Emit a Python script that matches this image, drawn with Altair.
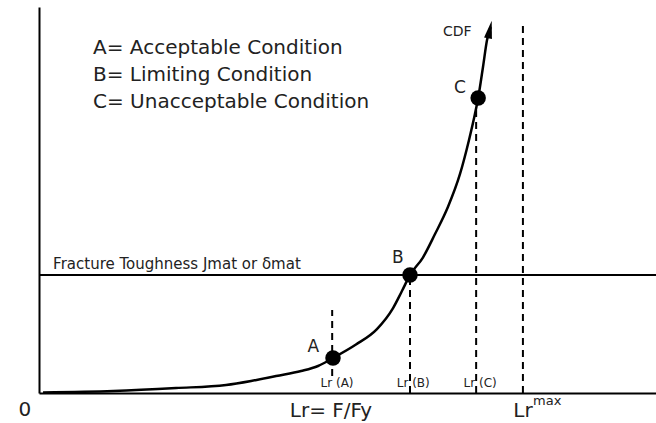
import altair as alt
import pandas as pd

FONT = "DejaVu Sans"

# CDF curve (Lr = F/Fy vs. crack driving force J / Jmat)
curve_lr = [0.010, 0.184, 0.340, 0.464, 0.526, 0.588, 0.650, 0.692, 0.729, 0.786,
            0.838, 0.878, 0.900, 0.920, 0.952, 0.982, 1.014, 1.044, 1.066, 1.081,
            1.089, 1.101, 1.111, 1.120]
curve_j = [0.005, 0.017, 0.042, 0.068, 0.102, 0.144, 0.186, 0.229, 0.297, 0.411,
           0.542, 0.720, 0.864, 1.000, 1.148, 1.347, 1.576, 1.856, 2.140, 2.364,
           2.500, 2.763, 2.992, 3.100]

# condition points
pt_name = ["A", "B", "C"]
pt_lr = [0.729, 0.920, 1.089]
pt_j = [0.297, 1.000, 2.500]
pt_lab_lr = [0.680, 0.890, 1.044]
pt_lab_j = [0.390, 1.144, 2.585]

# dashed verticals
dash_lr = [0.727, 0.920, 1.084, 1.200]
dash_from = [0.144, 0.0, 0.0, 0.0]
dash_to = [0.703, 1.0, 2.500, 3.144]

# small Lr labels
lr_lab = ["Lr (A)", "Lr (B)", "Lr (C)"]
lr_lab_x = [0.739, 0.928, 1.094]
lr_lab_y = [0.055, 0.055, 0.055]

toughness = 1.0

legend_lines = ["A= Acceptable Condition", "B= Limiting Condition", "C= Unacceptable Condition"]
legend_y = [2.873, 2.644, 2.415]

XD = [0, 1.530]
YD = [0, 3.271]
xs = alt.Scale(domain=XD, nice=False, zero=False)
ys = alt.Scale(domain=YD, nice=False, zero=False)

curve_df = pd.DataFrame({"lr": curve_lr, "j": curve_j, "o": list(range(len(curve_lr)))})
pts_df = pd.DataFrame({"name": pt_name, "lr": pt_lr, "j": pt_j, "llr": pt_lab_lr, "lj": pt_lab_j})
dash_df = pd.DataFrame({"lr": dash_lr, "a": dash_from, "b": dash_to})

X = alt.X("lr:Q", scale=xs, axis=alt.Axis(title="", labels=False, ticks=False, grid=False,
                                           domainColor="black", domainWidth=2))
Y = alt.Y("j:Q", scale=ys, axis=alt.Axis(title="", labels=False, ticks=False, grid=False,
                                          domainColor="black", domainWidth=2))

curve = alt.Chart(curve_df).mark_line(color="black", strokeWidth=2.5, interpolate="monotone").encode(
    x=X, y=Y, order="o:Q")

arrow = alt.Chart(pd.DataFrame({"lr": [1.118], "j": [3.08]})).mark_point(
    shape="M0,-1L0.45,1L-0.45,1Z", filled=True, color="black", size=320, angle=12, opacity=1
).encode(x=alt.X("lr:Q", scale=xs), y=alt.Y("j:Q", scale=ys))

hline = alt.Chart(pd.DataFrame({"j": [toughness]})).mark_rule(color="black", strokeWidth=2).encode(
    y=alt.Y("j:Q", scale=ys))

dashes = alt.Chart(dash_df).mark_rule(color="black", strokeWidth=2, strokeDash=[7, 5]).encode(
    x=alt.X("lr:Q", scale=xs), y=alt.Y("a:Q", scale=ys), y2="b:Q")

dots = alt.Chart(pts_df).mark_circle(color="black", size=240, opacity=1).encode(
    x=alt.X("lr:Q", scale=xs), y=alt.Y("j:Q", scale=ys))

dot_labels = alt.Chart(pts_df).mark_text(font=FONT, fontSize=17, color="#222", align="center",
                                         baseline="middle").encode(
    x=alt.X("llr:Q", scale=xs), y=alt.Y("lj:Q", scale=ys), text="name:N")

legend = alt.Chart(pd.DataFrame({"t": legend_lines, "y": legend_y, "x": [0.134] * 3})).mark_text(
    font=FONT, fontSize=20, color="#222", align="left", baseline="alphabetic").encode(
    x=alt.X("x:Q", scale=xs), y=alt.Y("y:Q", scale=ys), text="t:N")

cdf = alt.Chart(pd.DataFrame({"t": ["CDF"], "x": [1.037], "y": [3.059]})).mark_text(
    font=FONT, fontSize=14, color="#222", align="center", baseline="middle").encode(
    x=alt.X("x:Q", scale=xs), y=alt.Y("y:Q", scale=ys), text="t:N")

tough_lab = alt.Chart(pd.DataFrame({"t": ["Fracture Toughness Jmat or δmat"], "x": [0.035], "y": [1.051]})).mark_text(
    font=FONT, fontSize=15, color="#222", align="left", baseline="alphabetic").encode(
    x=alt.X("x:Q", scale=xs), y=alt.Y("y:Q", scale=ys), text="t:N")

lr_labels = alt.Chart(pd.DataFrame({"t": lr_lab, "x": lr_lab_x, "y": lr_lab_y})).mark_text(
    font=FONT, fontSize=12, color="#222", align="center", baseline="alphabetic").encode(
    x=alt.X("x:Q", scale=xs), y=alt.Y("y:Q", scale=ys), text="t:N")

center_labels = alt.Chart(pd.DataFrame({"t": ["0", "Lr= F/Fy"], "x": [-0.035, 0.724],
                                        "y": [-0.195, -0.203]})).mark_text(
    font=FONT, fontSize=20, color="#222", align="center", baseline="alphabetic").encode(
    x=alt.X("x:Q", scale=xs), y=alt.Y("y:Q", scale=ys), text="t:N")

lrmax = alt.Chart(pd.DataFrame({"t": ["Lr"], "x": [1.176], "y": [-0.203]})).mark_text(
    font=FONT, fontSize=20, color="#222", align="left", baseline="alphabetic").encode(
    x=alt.X("x:Q", scale=xs), y=alt.Y("y:Q", scale=ys), text="t:N")

sup = alt.Chart(pd.DataFrame({"t": ["max"], "x": [1.225], "y": [-0.102]})).mark_text(
    font=FONT, fontSize=13, color="#222", align="left", baseline="alphabetic").encode(
    x=alt.X("x:Q", scale=xs), y=alt.Y("y:Q", scale=ys), text="t:N")

chart = alt.layer(hline, dashes, curve, arrow, dots, dot_labels, legend, cdf, tough_lab,
                  lr_labels, center_labels, lrmax, sup).properties(
    width=617, height=386,
    autosize=alt.AutoSizeParams(type="none"),
    padding={"left": 39, "top": 7, "right": 0, "bottom": 30},
    background="white",
).configure_view(strokeWidth=0)

chart.save("out.html", embed_options={"renderer": "svg", "actions": False})
